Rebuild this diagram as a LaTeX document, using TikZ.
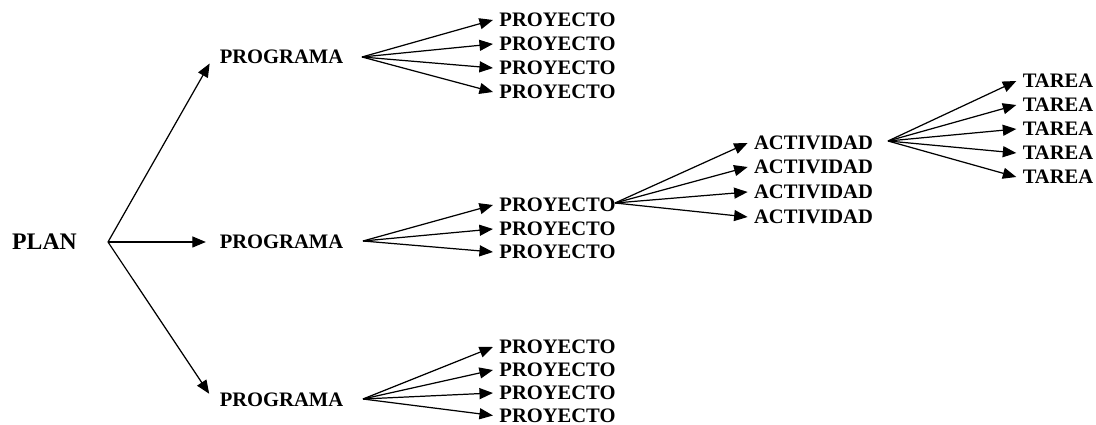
\documentclass[tikz,border=0pt]{standalone}
\usepackage{fontspec}
\setmainfont{Liberation Serif}
\usepackage{tikz}
\usetikzlibrary{arrows.meta}

\begin{document}
\begin{tikzpicture}[->,
					>={Triangle[length=2.7mm, width=2.2mm]},
					line width=0.7pt,
					every node/.style={font=\fontsize{11.7}{14}\selectfont\bfseries}]

	\useasboundingbox (0,0) rectangle (21.92,-8.5);

	% plan and its programs
	\node (pl) at (0.89,-4.84) {\fontsize{13.5}{16}\selectfont PLAN};
	\node (g1) at (5.63,-1.14) {PROGRAMA};
	\node (g2) at (5.63,-4.84) {PROGRAMA};
	\node (g3) at (5.63,-8.00) {PROGRAMA};

	% projects
	\node (p11) at (11.15,-0.40) {PROYECTO};
	\node (p12) at (11.15,-0.88) {PROYECTO};
	\node (p13) at (11.15,-1.36) {PROYECTO};
	\node (p14) at (11.15,-1.84) {PROYECTO};
	\node (p21) at (11.15,-4.10) {PROYECTO};
	\node (p22) at (11.15,-4.58) {PROYECTO};
	\node (p23) at (11.15,-5.04) {PROYECTO};
	\node (p31) at (11.15,-6.94) {PROYECTO};
	\node (p32) at (11.15,-7.40) {PROYECTO};
	\node (p33) at (11.15,-7.86) {PROYECTO};
	\node (p34) at (11.15,-8.31) {PROYECTO};

	% activities and tasks
	\node (a1) at (16.27,-2.86) {ACTIVIDAD};
	\node (a2) at (16.27,-3.34) {ACTIVIDAD};
	\node (a3) at (16.27,-3.84) {ACTIVIDAD};
	\node (a4) at (16.27,-4.34) {ACTIVIDAD};
	\node (t1) at (21.16,-1.62) {TAREA};
	\node (t2) at (21.16,-2.10) {TAREA};
	\node (t3) at (21.16,-2.58) {TAREA};
	\node (t4) at (21.16,-3.06) {TAREA};
	\node (t5) at (21.16,-3.54) {TAREA};

	% fork points
	\coordinate (plf) at (2.16,-4.84);
	\coordinate (g1f) at (7.24,-1.14);
	\coordinate (g2f) at (7.26,-4.82);
	\coordinate (g3f) at (7.26,-7.98);
	\coordinate (p21f) at (12.30,-4.06);
	\coordinate (a1f) at (17.76,-2.82);

	\path	(plf) edge [shorten >=1.5mm] (g1.west)
				  edge [shorten >=1.5mm] (g2.west)
				  edge [shorten >=1.5mm] (g3.west)
			(g1f) edge (p11.west) edge (p12.west) edge (p13.west) edge (p14.west)
			(g2f) edge (p21.west) edge (p22.west) edge (p23.west)
			(g3f) edge (p31.west) edge (p32.west) edge (p33.west) edge (p34.west)
			(p21f) edge (a1.west) edge (a2.west) edge (a3.west) edge (a4.west)
			(a1f) edge (t1.west) edge (t2.west) edge (t3.west) edge (t4.west) edge (t5.west)
;
\end{tikzpicture}
\end{document}
